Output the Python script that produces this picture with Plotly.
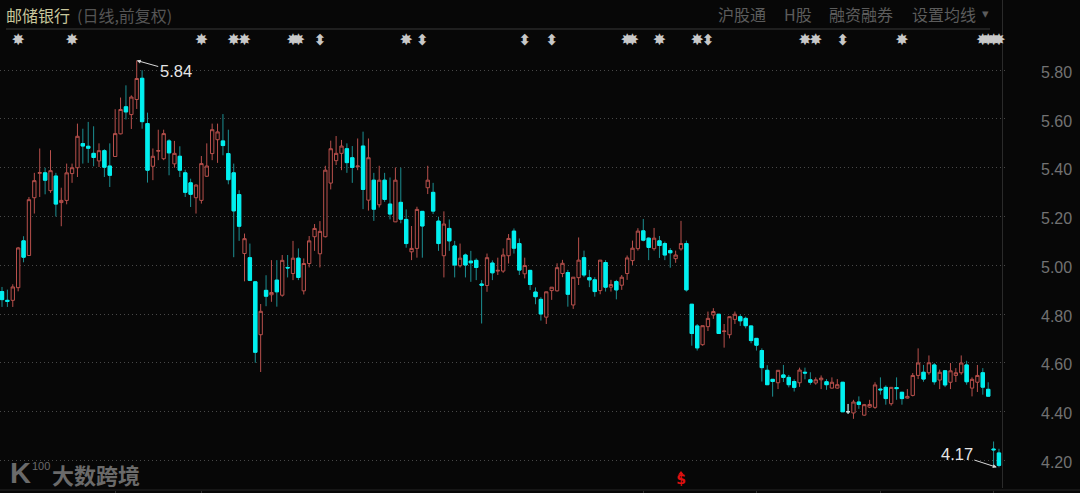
import plotly.graph_objects as go

# --- data ---
opens = [4.892,4.856,4.856,4.908,5.100,5.040,5.277,5.377,5.379,5.306,5.366,5.257,5.266,5.376,5.400,5.499,5.488,5.459,5.428,5.470,
 5.407,5.446,5.539,5.650,5.618,5.680,5.767,5.581,5.406,5.468,5.437,5.510,5.416,5.447,5.379,5.338,5.277,5.266,5.365,5.458,
 5.515,5.510,5.458,5.379,5.290,5.048,5.031,4.932,4.715,4.897,
 4.879,4.939,4.877,4.991,4.966,5.029,4.895,5.007,5.117,5.047,5.117,5.337,5.429,5.459,5.478,5.441,5.404,5.489,5.267,5.349,
 5.248,5.349,5.251,5.178,5.258,5.188,5.055,5.069,5.221,5.318,5.299,5.181,5.039,5.151,5.079,4.998,5.042,5.017,5.020,4.923,
 4.917,5.009,4.976,4.976,5.039,5.140,5.089,4.965,4.979,4.890,
 4.860,4.787,4.896,4.895,4.966,4.970,4.837,4.949,5.031,4.949,4.940,4.896,5.011,4.910,4.933,4.918,4.966,5.019,5.068,5.141,
 5.111,5.068,5.100,5.089,5.060,5.027,5.067,5.089,4.840,4.751,4.674,4.748,4.796,4.799,4.728,4.715,4.778,4.789,4.782,4.751,
 4.700,4.650,4.569,4.532,4.518,4.550,4.540,4.523,4.518,4.561,
 4.530,4.517,4.530,4.522,4.496,4.496,4.520,4.399,4.394,4.439,4.385,4.418,4.417,4.492,4.499,4.432,4.498,4.479,4.455,4.466,
 4.548,4.561,4.559,4.591,4.529,4.567,4.520,4.548,4.559,4.591,4.496,4.520,4.559,4.491,4.246,4.230]
highs = [4.911,4.900,4.922,5.075,5.119,5.280,5.379,5.479,5.400,5.472,5.379,5.318,5.417,5.417,5.581,5.560,5.588,5.570,5.500,5.476,
 5.500,5.640,5.688,5.738,5.697,5.840,5.800,5.626,5.479,5.556,5.556,5.517,5.510,5.488,5.392,5.355,5.332,5.448,5.500,5.581,
 5.581,5.620,5.556,5.417,5.308,5.130,5.089,4.932,4.841,4.959,
 5.021,5.021,5.042,5.042,5.100,5.069,5.028,5.120,5.169,5.181,5.408,5.511,5.530,5.514,5.500,5.489,5.520,5.548,5.520,5.379,
 5.408,5.379,5.360,5.401,5.400,5.229,5.161,5.240,5.221,5.408,5.338,5.199,5.221,5.188,5.100,5.089,5.048,5.059,5.028,4.939,
 5.048,5.020,5.031,5.069,5.128,5.151,5.110,5.031,4.979,4.909,
 4.869,4.892,4.910,5.008,5.022,4.981,4.951,5.114,5.060,4.981,4.951,5.021,5.021,4.940,4.940,4.960,5.040,5.101,5.152,5.190,
 5.114,5.153,5.120,5.097,5.070,5.060,5.182,5.101,4.840,4.759,4.752,4.810,4.824,4.800,4.759,4.789,4.810,4.799,4.789,4.751,
 4.700,4.659,4.590,4.532,4.569,4.591,4.550,4.532,4.580,4.580,
 4.561,4.540,4.548,4.533,4.540,4.533,4.520,4.431,4.448,4.462,4.431,4.448,4.520,4.540,4.507,4.499,4.540,4.479,4.492,4.558,
 4.659,4.591,4.630,4.599,4.572,4.567,4.599,4.578,4.630,4.608,4.540,4.591,4.578,4.520,4.277,4.247]
lows = [4.829,4.829,4.829,4.893,5.012,5.040,5.212,5.280,5.291,5.297,5.200,5.160,5.250,5.338,5.362,5.417,5.420,5.406,5.403,5.362,
 5.321,5.444,5.537,5.598,5.559,5.641,5.560,5.339,5.349,5.431,5.431,5.369,5.400,5.362,5.280,5.239,5.212,5.253,5.362,5.431,
 5.420,5.451,5.332,5.033,5.100,4.934,4.935,4.600,4.562,4.832,
 4.850,4.830,4.871,4.950,4.939,4.939,4.880,4.991,5.059,4.991,5.114,5.311,5.411,5.390,5.379,5.338,5.390,5.230,5.224,5.182,
 5.237,5.260,5.188,5.177,5.172,5.072,5.021,5.031,5.031,5.292,5.210,5.059,4.950,5.059,4.950,4.991,4.950,4.932,4.939,4.761,
 4.891,4.939,4.960,4.969,5.007,5.048,4.960,4.946,4.898,4.840,
 4.773,4.759,4.858,4.892,4.951,4.830,4.821,4.919,4.951,4.910,4.871,4.881,4.892,4.892,4.860,4.899,4.940,5.001,5.060,5.098,
 5.021,5.060,5.030,5.021,4.990,5.010,5.060,4.892,4.670,4.650,4.670,4.730,4.780,4.719,4.662,4.700,4.759,4.751,4.741,4.680,
 4.650,4.523,4.509,4.461,4.492,4.521,4.499,4.482,4.501,4.532,
 4.510,4.510,4.492,4.489,4.494,4.494,4.399,4.390,4.370,4.411,4.383,4.414,4.411,4.469,4.428,4.424,4.448,4.428,4.453,4.462,
 4.533,4.522,4.551,4.510,4.492,4.500,4.492,4.521,4.551,4.510,4.462,4.480,4.469,4.463,4.175,4.171]
closes = [4.859,4.852,4.911,5.071,5.033,5.269,5.347,5.380,5.349,5.388,5.251,5.266,5.379,5.400,5.529,5.489,5.480,5.442,5.470,5.402,
 5.369,5.540,5.639,5.629,5.690,5.766,5.589,5.390,5.447,5.470,5.540,5.461,5.459,5.390,5.299,5.291,5.329,5.417,5.407,5.556,
 5.547,5.491,5.351,5.223,5.160,5.109,4.938,4.643,4.811,4.873,
 4.888,4.891,5.020,4.989,5.029,4.950,5.007,5.100,5.151,5.139,5.390,5.478,5.459,5.489,5.421,5.401,5.407,5.311,5.441,5.230,
 5.349,5.270,5.210,5.349,5.189,5.089,5.069,5.229,5.161,5.349,5.222,5.089,5.169,5.100,5.001,5.029,5.001,5.010,4.991,4.918,
 5.031,4.969,4.979,5.042,5.110,5.070,4.980,4.999,4.921,4.871,
 4.800,4.891,4.910,4.990,5.008,4.881,4.951,5.021,4.960,4.940,4.892,5.021,4.910,4.921,4.899,4.951,5.030,5.070,5.140,5.103,
 5.073,5.111,5.081,5.042,5.051,5.042,5.089,4.899,4.720,4.661,4.752,4.782,4.810,4.720,4.730,4.789,4.799,4.772,4.752,4.691,
 4.672,4.580,4.510,4.523,4.569,4.540,4.510,4.499,4.570,4.558,
 4.520,4.530,4.537,4.510,4.520,4.510,4.399,4.399,4.439,4.429,4.428,4.429,4.509,4.489,4.453,4.499,4.494,4.453,4.462,4.548,
 4.599,4.533,4.600,4.522,4.561,4.509,4.567,4.559,4.599,4.522,4.532,4.548,4.500,4.463,4.243,4.179]

price_ticks = [4.2, 4.4, 4.6, 4.8, 5.0, 5.2, 5.4, 5.6, 5.8]
price_labels = ["4.20", "4.40", "4.60", "4.80", "5.00", "5.20", "5.40", "5.60", "5.80"]
month_ticks = [21, 37, 119, 140, 163, 184]
star_days = [3, 13, 37, 43, 45, 54, 55, 75, 116, 117, 122, 129, 149, 151, 167, 182, 183, 184, 185]
arrow_days = [59, 78, 97, 102, 131, 156]
dollar_days = [126]
high_label, low_label = "5.84", "4.17"
title_name = "邮储银行"
title_sub = "(日线,前复权)"
top_tabs = ["沪股通", "H股", "融资融券", "设置均线"]

# --- layout constants ---
W, H = 1080, 493
ML, MR, MT, MB = 0, 73, 30, 3
PW, PH = W - ML - MR, H - MT - MB
STEP, X0 = 5.389, 2.0
BG = "#070707"
RED_LINE, TEAL_WICK, CYAN = "#b8504c", "#1c8f92", "#00f0f0"
EVENT_GREY = "#c8c8c8"
Y_RANGE = [4.078, 5.965]
PX_PER_PRICE = 243.75
days = list(range(len(opens)))


def xp(px):
    return (px - ML) / PW


def yp(px):
    return 1 - (px - MT) / PH


fig = go.Figure()
fig.add_trace(go.Candlestick(
    x=days, open=opens, high=highs, low=lows, close=closes, whiskerwidth=0, hoverinfo="skip",
    increasing=dict(line=dict(color=RED_LINE, width=1), fillcolor=BG),
    decreasing=dict(line=dict(color=TEAL_WICK, width=1), fillcolor=CYAN), showlegend=False))
# solid cyan bodies over the dim wicks
dn = [i for i in days if closes[i] < opens[i]]
fig.add_trace(go.Candlestick(
    x=[days[i] for i in dn], open=[opens[i] for i in dn], close=[closes[i] for i in dn],
    high=[opens[i] for i in dn], low=[closes[i] for i in dn], whiskerwidth=0, hoverinfo="skip",
    increasing=dict(line=dict(color=CYAN, width=1), fillcolor=CYAN),
    decreasing=dict(line=dict(color=CYAN, width=1), fillcolor=CYAN), showlegend=False))
flat = [i for i in days if closes[i] == opens[i]]
fig.add_trace(go.Candlestick(
    x=[days[i] for i in flat], open=[opens[i] for i in flat], close=[closes[i] for i in flat],
    high=[highs[i] for i in flat], low=[lows[i] for i in flat], whiskerwidth=0, hoverinfo="skip",
    increasing=dict(line=dict(color="#dddddd", width=1)),
    decreasing=dict(line=dict(color="#dddddd", width=1)), showlegend=False))

ROW_Y = 5.920
fig.add_trace(go.Scatter(x=star_days, y=[ROW_Y] * len(star_days), mode="text", text=["✸"] * len(star_days),
                         textfont=dict(family="DejaVu Sans", size=16, color=EVENT_GREY),
                         textposition="middle center", hoverinfo="skip", showlegend=False))
fig.add_trace(go.Scatter(x=arrow_days, y=[ROW_Y] * len(arrow_days), mode="text", text=["<b>⬍</b>"] * len(arrow_days),
                         textfont=dict(family="DejaVu Sans", size=15, color=EVENT_GREY),
                         textposition="middle center", hoverinfo="skip", showlegend=False))

DOLLAR_Y = 4.115
fig.add_trace(go.Scatter(x=dollar_days, y=[DOLLAR_Y] * len(dollar_days), mode="text", text=["<b>$</b>"] * len(dollar_days),
                         textfont=dict(family="DejaVu Sans", size=14, color="#e01010"),
                         textposition="middle center", hoverinfo="skip", showlegend=False))
fig.add_trace(go.Scatter(x=dollar_days, y=[DOLLAR_Y + 7.5 / PX_PER_PRICE] * len(dollar_days), mode="markers",
                         marker=dict(symbol="triangle-up", size=5, color="#e01010", line=dict(width=0)),
                         hoverinfo="skip", showlegend=False))
# invisible carrier so that the label axis (2 px lower than the grid) is drawn
fig.add_trace(go.Scatter(x=[days[0]], y=[closes[0]], yaxis="y2", mode="markers", marker=dict(opacity=0),
                         hoverinfo="skip", showlegend=False))

ann = []
def label(px, py, text, size, color, family="Noto Sans CJK SC", anchor="left"):
    ann.append(dict(xref="paper", yref="paper", x=xp(px), y=yp(py), text=text, showarrow=False,
                    xanchor=anchor, yanchor="middle", font=dict(family=family, size=size, color=color)))

label(4, 15, title_name, 16, "#c9c79c")
label(75, 15, title_sub, 16, "#555555")
for px, t in zip([716, 782, 827, 910], top_tabs):
    label(px, 14, t, 16, "#5c5c5c")
label(985, 14, "▾", 13, "#5c5c5c", family="DejaVu Sans", anchor="center")
label(50, 474, "<b>大数跨境</b>", 22, "#6a6a6a")
label(8, 473, "<b>K</b>", 29, "#6a6a6a", family="Liberation Sans")
label(30, 466, "100", 11, "#6a6a6a", family="Liberation Sans")

# extreme-value call-outs
hi_i = highs.index(max(highs))
lo_i = lows.index(min(lows))
ann.append(dict(x=hi_i, y=highs[hi_i], xref="x", yref="y", text=high_label, ax=39, ay=11, showarrow=True,
                arrowhead=2, arrowsize=0.8, arrowwidth=1, arrowcolor="#d8d8d8",
                font=dict(family="Liberation Sans", size=16.5, color="#e6e6e6")))
ann.append(dict(x=lo_i - 0.4, y=lows[lo_i], xref="x", yref="y", text=low_label, ax=-40, ay=-13, showarrow=True,
                arrowhead=2, arrowsize=0.8, arrowwidth=1, arrowcolor="#d8d8d8",
                font=dict(family="Liberation Sans", size=16.5, color="#e6e6e6")))

shapes = [
    dict(type="line", xref="paper", yref="paper", x0=xp(6), x1=xp(990), y0=yp(29), y1=yp(29),
         line=dict(color="#1f1f1f", width=2), layer="below"),
    dict(type="line", xref="paper", yref="paper", x0=xp(1002.5), x1=xp(1002.5), y0=yp(0), y1=yp(488),
         line=dict(color="#2a2a2a", width=1), layer="below"),
    dict(type="line", xref="paper", yref="paper", x0=xp(0), x1=xp(1080), y0=yp(490), y1=yp(490),
         line=dict(color="#262626", width=1), layer="below"),
]

label_shift = 2 / PX_PER_PRICE
fig.update_layout(
    width=W, height=H, margin=dict(l=ML, r=MR, t=MT, b=MB, pad=0),
    paper_bgcolor=BG, plot_bgcolor=BG, showlegend=False, boxgap=0.12,
    annotations=ann, shapes=shapes,
    xaxis=dict(range=[(0 - X0) / STEP, (PW - X0) / STEP], rangeslider=dict(visible=False), showgrid=False,
               zeroline=False, showticklabels=False, tickmode="array", tickvals=month_ticks,
               ticks="outside", ticklen=3, tickcolor="#333333", fixedrange=True),
    yaxis=dict(side="right", range=Y_RANGE, tickmode="array", tickvals=price_ticks, showticklabels=False,
               showgrid=True, gridcolor="#484848", griddash="1px,3px", gridwidth=1, zeroline=False, ticks="",
               fixedrange=True),
    yaxis2=dict(side="right", overlaying="y", range=[Y_RANGE[0] + label_shift, Y_RANGE[1] + label_shift],
                tickmode="array", tickvals=price_ticks, ticktext=price_labels, showgrid=False, zeroline=False,
                ticks="", ticklabelstandoff=33, tickfont=dict(family="Liberation Sans", size=16, color="#727272"),
                fixedrange=True),
)

fig.write_html("out.html", config=dict(displayModeBar=False),
               post_script=f"document.body.style.margin='0';document.body.style.background='{BG}';")
